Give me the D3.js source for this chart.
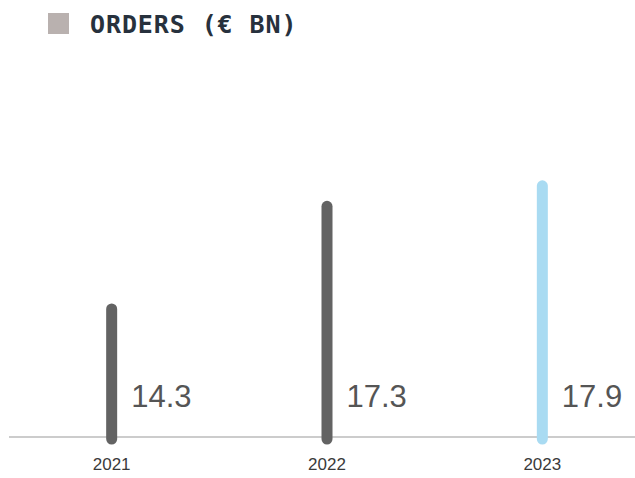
<!DOCTYPE html>
<html><head><meta charset="utf-8">
<script src="https://cdn.jsdelivr.net/npm/d3@7"></script>
<style>html,body{margin:0;padding:0;background:#fff;}svg{display:block;}</style>
</head><body>
<svg id="chart" width="635" height="478"></svg>
<script>
const title = "ORDERS (€ BN)";
const years = ["2021", "2022", "2023"];
const orders = [14.3, 17.3, 17.9];
const barColors = ["#636363", "#636363", "#a9dbf2"];

const svg = d3.select("#chart");
const baseY = 437;

const x = d3.scalePoint().domain(years).range([4, 650]).padding(0.5);
const y = d3.scaleLinear().domain([10.4, 18.2]).range([baseY, 170]);

// legend / title
svg.append("rect").attr("x", 48).attr("y", 13).attr("width", 21).attr("height", 21).attr("fill", "#b9b1af");
svg.append("text").attr("x", 90).attr("y", 33)
  .attr("font-family", "DejaVu Sans Mono").attr("font-weight", "bold")
  .attr("font-size", 25).attr("letter-spacing", 0.9).attr("fill", "#27313d")
  .text(title);

// axis line
svg.append("line").attr("x1", 9).attr("x2", 635).attr("y1", baseY).attr("y2", baseY)
  .attr("stroke", "#9a9a9a").attr("stroke-width", 1.2);

const data = years.map((d, i) => ({year: d, v: orders[i], c: barColors[i]}));

svg.selectAll(".bar").data(data).join("line").attr("class", "bar")
  .attr("x1", d => x(d.year)).attr("x2", d => x(d.year))
  .attr("y1", baseY + 2).attr("y2", d => y(d.v) + 5.5)
  .attr("stroke", d => d.c).attr("stroke-width", 11).attr("stroke-linecap", "round");

svg.selectAll(".val").data(data).join("text").attr("class", "val")
  .attr("x", d => x(d.year) + 19.5).attr("y", 407)
  .attr("font-family", "Liberation Sans, Arial, sans-serif").attr("font-size", 31)
  .attr("fill", "#555").text(d => d.v.toFixed(1));

svg.selectAll(".yr").data(data).join("text").attr("class", "yr")
  .attr("x", d => x(d.year)).attr("y", 470).attr("text-anchor", "middle")
  .attr("font-family", "Liberation Sans, Arial, sans-serif").attr("font-size", 17)
  .attr("fill", "#3a3a3a").text(d => d.year);
</script>
</body></html>
